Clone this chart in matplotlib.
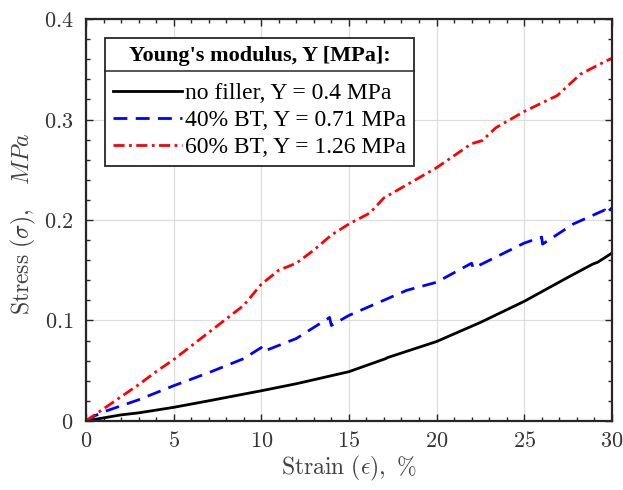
import matplotlib
matplotlib.use("Agg")
import matplotlib.pyplot as plt
from matplotlib.ticker import MultipleLocator
from matplotlib.lines import Line2D

plt.rcParams['mathtext.fontset'] = 'cm'

# strain (%) and stress (MPa)
x_nf = [0, 1, 2, 3, 5, 7, 10, 12, 15, 17.1, 17.2, 20, 22.5, 25, 27.4, 28.9, 29.2, 30]
y_nf = [0, 0.003, 0.006, 0.008, 0.0135, 0.02, 0.030, 0.037, 0.049, 0.062, 0.063, 0.079, 0.098, 0.119,
        0.142, 0.156, 0.158, 0.167]

x_40 = [0, 0.5, 1, 2, 3, 5, 7, 9, 10, 10.1, 12, 13.9, 14.0, 15, 18.3, 20, 22.0, 22.1, 25, 26.0, 26.05,
        27.8, 29.6, 29.65, 30]
y_40 = [0, 0.005, 0.009, 0.015, 0.021, 0.035, 0.048, 0.062, 0.073, 0.069, 0.082, 0.103, 0.095, 0.105,
        0.130, 0.138, 0.157, 0.152, 0.177, 0.183, 0.176, 0.196, 0.210, 0.206, 0.212]

x_60 = [0, 1, 2, 3, 4, 5, 7, 9, 10, 11, 12, 13, 14, 15, 16.2, 17, 20, 22, 22.6, 23.4, 25, 26.9, 28.2,
        29.3, 30]
y_60 = [0, 0.012, 0.024, 0.036, 0.049, 0.061, 0.088, 0.115, 0.136, 0.150, 0.157, 0.170, 0.185, 0.196,
        0.207, 0.222, 0.252, 0.276, 0.279, 0.292, 0.308, 0.324, 0.345, 0.355, 0.361]

labels = ['no filler, Y = 0.4 MPa', '40% BT, Y = 0.71 MPa', '60% BT, Y = 1.26 MPa']

fig = plt.figure(figsize=(6.23, 4.9), dpi=100)
ax = fig.add_axes([0.138, 0.141, 0.844, 0.820])

ax.plot(x_nf, y_nf, color='black', lw=2.0, label=labels[0])
ax.plot(x_40, y_40, color='blue', lw=2.0, ls=(0, (5, 3)), label=labels[1])
ax.plot(x_60, y_60, color='red', lw=2.0, ls=(0, (4, 1.6, 1, 1.6)), label=labels[2])

ax.set_xlim(0, 30)
ax.set_ylim(0, 0.4)
ax.xaxis.set_minor_locator(MultipleLocator(1))
ax.yaxis.set_minor_locator(MultipleLocator(0.02))
ax.set_xticks([0, 5, 10, 15, 20, 25, 30])
ax.set_xticklabels(['$%d$' % v for v in [0, 5, 10, 15, 20, 25, 30]])
ax.set_yticks([0, 0.1, 0.2, 0.3, 0.4])
ax.set_yticklabels(['$0$', '$0.1$', '$0.2$', '$0.3$', '$0.4$'])

ax.tick_params(which='both', direction='in', top=True, right=True, colors='#262626',
               labelcolor='#333333', labelsize=16)
ax.tick_params(axis='y', pad=9)
ax.tick_params(axis='x', pad=7)
ax.tick_params(which='major', length=5, width=1)
ax.tick_params(which='minor', length=3, width=1)
for s in ax.spines.values():
    s.set_linewidth(1.6)
    s.set_color('#262626')
ax.grid(True, which='major', color='#dddddd', lw=0.9)
ax.set_axisbelow(True)

ax.set_xlabel(r'$\mathrm{Strain}\ (\epsilon),\ \%$', fontsize=17, color='#404040', labelpad=2)
ax.set_ylabel(r'$\mathrm{Stress}\ (\sigma),\quad MPa$', fontsize=17, color='#404040')
ax.yaxis.set_label_coords(-0.092, 0.49)

leg = ax.legend(loc='upper left', bbox_to_anchor=(0.036, 0.953), title="Young's modulus, Y [MPa]:",
                prop={'family': 'Liberation Serif', 'size': 17},
                title_fontproperties={'family': 'Liberation Serif', 'size': 16, 'weight': 'bold'},
                fancybox=False, framealpha=1, edgecolor='#262626', handlelength=2.9,
                handletextpad=0.15, borderpad=0.35, labelspacing=0.22, borderaxespad=0)
leg.get_frame().set_linewidth(1.3)
leg._legend_box.sep = 12

# separator line under the legend title
fig.canvas.draw()
fb = leg.get_window_extent()
tb = leg.get_title().get_window_extent()
ysep = tb.y0 - 5
inv = fig.transFigure.inverted()
p0 = inv.transform((fb.x0, ysep))
p1 = inv.transform((fb.x1, ysep))
fig.add_artist(Line2D([p0[0], p1[0]], [p0[1], p1[1]], color='#262626', lw=1.1, zorder=10))

fig.savefig('out.png', dpi=100)
